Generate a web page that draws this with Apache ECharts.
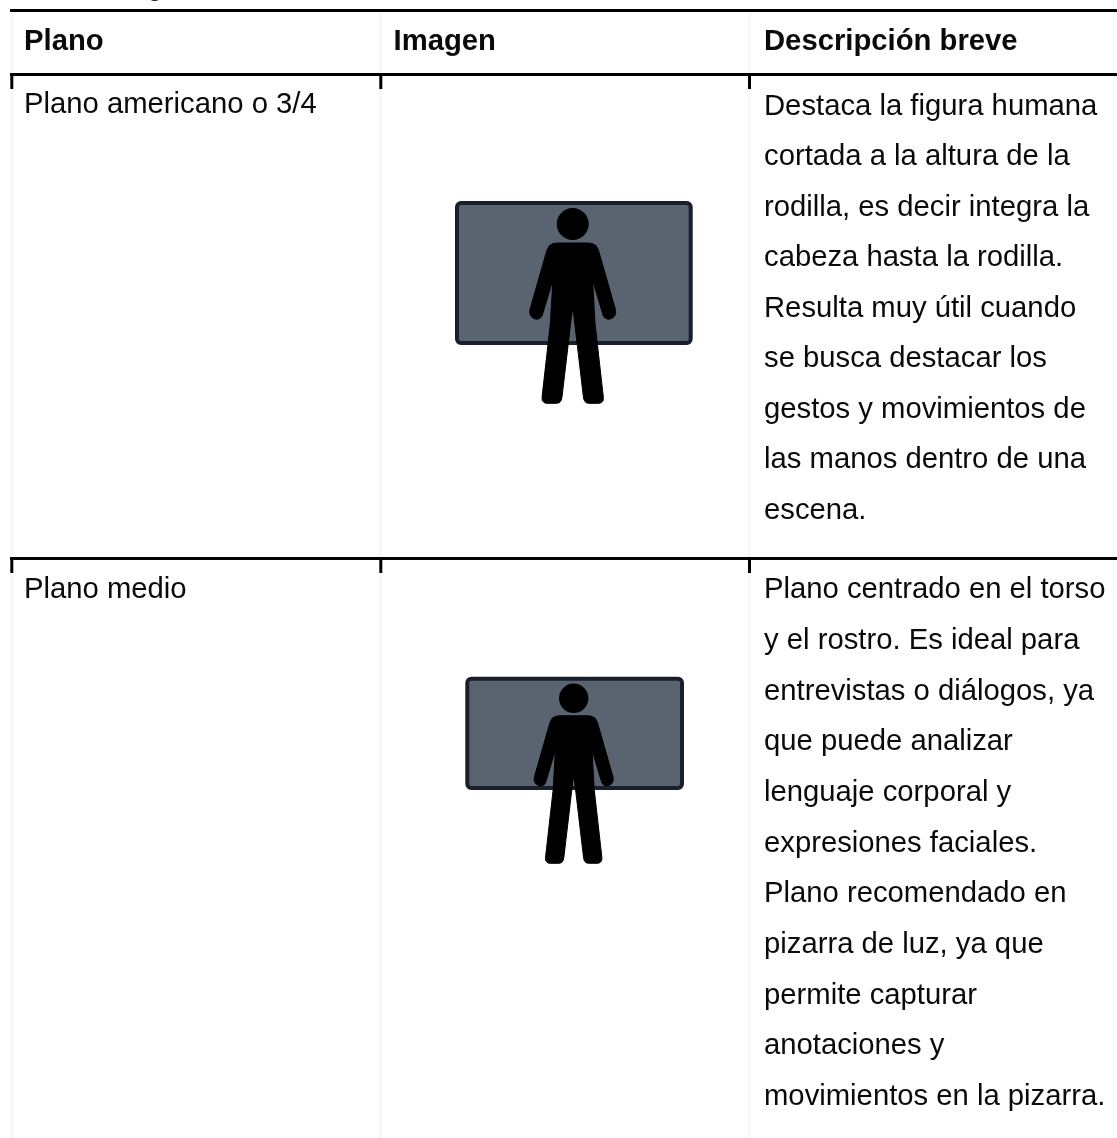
<!DOCTYPE html>
<html>
<head>
<meta charset="utf-8">
<style>html,body{margin:0;padding:0;background:#fff}#c{width:1117px;height:1138px}</style>
<script src="https://cdn.jsdelivr.net/npm/echarts@6/dist/echarts.min.js"></script>
</head>
<body>
<div id="c"></div>
<script>
var headers = ['Plano', 'Imagen', 'Descripción breve'];
var planos = ['Plano americano o 3/4', 'Plano medio'];
var descAmericano = [
  'Destaca la figura humana', 'cortada a la altura de la', 'rodilla, es decir integra la',
  'cabeza hasta la rodilla.', 'Resulta muy útil cuando', 'se busca destacar los',
  'gestos y movimientos de', 'las manos dentro de una', 'escena.'
];
var descMedio = [
  'Plano centrado en el torso', 'y el rostro. Es ideal para', 'entrevistas o diálogos, ya',
  'que puede analizar', 'lenguaje corporal y', 'expresiones faciales.',
  'Plano recomendado en', 'pizarra de luz, ya que', 'permite capturar',
  'anotaciones y', 'movimientos en la pizarra.'
];

var FONT = '"Liberation Sans", Arial, sans-serif';
var SIZE = 29.25;
var els = [];
function rect(x, y, w, h, fill) {
  els.push({type: 'rect', shape: {x: x, y: y, width: w, height: h}, style: {fill: fill}, silent: true});
}
function text(s, x, base, weight) {
  els.push({type: 'text', x: x, y: base - 0.8465 * SIZE, silent: true, style: {
    text: s, fill: '#0a0a0a', font: (weight || 'normal') + ' ' + SIZE + 'px ' + FONT,
    textAlign: 'left'
  }});
}
var BODY = [[0,159],[48,159],[60,161],[70,167],[76,178],[80,190],[128,358],[129,368],[126,378],[118,385],[108,388],[98,385],[92,378],[57,262],[59,262],[67,400],[92,622],[91,632],[84,639],[78,640],[48,640],[40,638],[34,630],[32,620],[2,365],[0,365]];
function person(cx, cy, k) {
  // outline measured in a 3x crop relative to the head centre (0,102)
  var f = k / 3, pts = [];
  BODY.forEach(function (p) { pts.push([cx + p[0] * f, cy + (p[1] - 102) * f]); });
  BODY.slice().reverse().forEach(function (p) { pts.push([cx - p[0] * f, cy + (p[1] - 102) * f]); });
  els.push({type: 'polygon', shape: {points: pts}, style: {fill: '#000', stroke: '#000', lineWidth: 1, lineJoin: 'round'}, silent: true});
  els.push({type: 'circle', shape: {cx: cx, cy: cy, r: 16 * k}, style: {fill: '#000'}, silent: true});
}
function screen(x, y, w, h) {
  els.push({type: 'rect', shape: {x: x, y: y, width: w, height: h, r: 4}, style: {fill: '#5a6470', stroke: '#1a1e2c', lineWidth: 4}, silent: true});
}

// faint cell borders
[10.5, 379, 748].forEach(function (x) { rect(x, 12, 3, 1126, '#f8f8f8'); });
// heavy rules
rect(10, 9, 1107, 3, '#000');
rect(10, 73, 1107, 3, '#000');
rect(10, 557, 1107, 3, '#000');
// ticks under the rules
[10.3, 379.3, 748].forEach(function (x) {
  rect(x, 76, 3, 13, '#000');
  rect(x, 560, 3, 13, '#000');
});
// clipped caption above the table
text('g', 147, -3);
// header
text(headers[0], 24, 52.3, 'bold');
text(headers[1], 393.5, 52.3, 'bold');
text(headers[2], 764, 52.3, 'bold');
// first column
text(planos[0], 24, 115);
text(planos[1], 24, 600.5);
// description
descAmericano.forEach(function (s, i) { text(s, 764, 116.7 + i * 50.5); });
descMedio.forEach(function (s, i) { text(s, 764, 600.5 + i * 50.65); });
// images
screen(457, 203, 233.7, 140);
person(572.7, 224, 1);
screen(467.3, 678.7, 214.7, 109.3);
person(573.7, 698.3, 0.92);

var chart = echarts.init(document.getElementById('c'), null, {renderer: 'canvas'});
chart.setOption({backgroundColor: '#fff', animation: false, graphic: {elements: els}});
</script>
</body>
</html>
